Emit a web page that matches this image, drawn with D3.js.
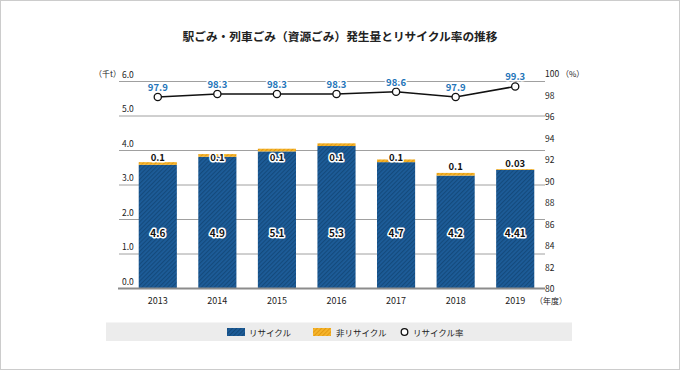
<!DOCTYPE html>
<html>
<head>
<meta charset="utf-8">
<script src="https://cdn.jsdelivr.net/npm/d3@7"></script>
<style>
body { margin: 0; background: #fff; }
text { font-family: "Noto Sans CJK JP", "Noto Sans", sans-serif; }
</style>
</head>
<body>
<script>
//recycle chart - stacked bars plus rate line on second axis

(function(){

//data
var years = ["2013", "2014", "2015", "2016", "2017", "2018", "2019"];
var recycled = [4.6, 4.9, 5.1, 5.3, 4.7, 4.2, 4.41];
var nonRecycled = [0.1, 0.1, 0.1, 0.1, 0.1, 0.1, 0.03];
var recycleRate = [97.9, 98.3, 98.3, 98.3, 98.6, 97.9, 99.3];
var leftTickLabels = ["0.0", "1.0", "2.0", "3.0", "4.0", "5.0", "6.0"];
var rightTicks = [80, 82, 84, 86, 88, 90, 92, 94, 96, 98, 100];

//frame
var width = 680,
    height = 370,
    plotLeft = 119,
    plotRight = 545,
    baseY = 288.5,
    topGrid = 81.5;

var svg = d3.select("body")
    .append("svg")
    .attr("width", width)
    .attr("height", height);

//light outer border
svg.append("rect")
    .attr("x", 0.5)
    .attr("y", 0.5)
    .attr("width", width - 1)
    .attr("height", height - 1)
    .attr("fill", "#fff")
    .attr("stroke", "#cccccc");

//hatch patterns for the bars
var defs = svg.append("defs");
function hatch(id, base, line){
    var p = defs.append("pattern")
        .attr("id", id)
        .attr("patternUnits", "userSpaceOnUse")
        .attr("width", 3)
        .attr("height", 3)
        .attr("patternTransform", "rotate(-45)");
    p.append("rect").attr("width", 3).attr("height", 3).attr("fill", base);
    p.append("rect").attr("width", 3).attr("height", 1.1).attr("fill", line);
};
hatch("hatchBlue", "#1d5c98", "#144a7c");
hatch("hatchOrange", "#f6b52c", "#e39a12");

//title
svg.append("text")
    .attr("x", 340)
    .attr("y", 35)
    .attr("text-anchor", "middle")
    .attr("dominant-baseline", "central")
    .style("font-size", "11.7px")
    .style("font-weight", "bold")
    .style("fill", "#222")
    .text("駅ごみ・列車ごみ（資源ごみ）発生量とリサイクル率の推移");

//scales
var x = d3.scaleBand()
    .domain(years)
    .range([128, 545])
    .paddingInner(0.36)
    .paddingOuter(0.18);

//left axis labels (as printed) and the bar value scale
var yAxisLeft = d3.scaleLinear()
    .domain([0, 6])
    .range([baseY, topGrid]);
var yVal = d3.scaleLinear()
    .domain([0, 7.7])
    .range([baseY, topGrid]);

//right axis labels and rate line scale
var yAxisRight = d3.scaleLinear()
    .domain([80, 100])
    .range([288, 73.3]);
var yRate = d3.scaleLinear()
    .domain([80, 100])
    .range([231, 81.2]);

//gridlines
svg.selectAll(".grid")
    .data(leftTickLabels.slice(1))
    .enter()
    .append("line")
    .attr("class", "grid")
    .attr("x1", plotLeft)
    .attr("x2", plotRight)
    .attr("y1", function(d, i){ return yAxisLeft(i + 1); })
    .attr("y2", function(d, i){ return yAxisLeft(i + 1); })
    .attr("stroke", "#a0a0a0")
    .attr("stroke-width", 1);

//left labels sit above their lines
svg.selectAll(".leftLabel")
    .data(leftTickLabels)
    .enter()
    .append("text")
    .attr("class", "leftLabel")
    .attr("x", 122)
    .attr("y", function(d, i){ return yAxisLeft(i) - 8; })
    .attr("dominant-baseline", "central")
    .style("font-size", "8.5px")
    .style("fill", "#222")
    .text(function(d){ return d; });

svg.append("text")
    .attr("x", 94)
    .attr("y", yAxisLeft(6) - 8)
    .attr("dominant-baseline", "central")
    .style("font-size", "8px")
    .style("fill", "#222")
    .text("（千t）");

//right axis
svg.selectAll(".rightLabel")
    .data(rightTicks)
    .enter()
    .append("text")
    .attr("class", "rightLabel")
    .attr("x", 545)
    .attr("y", function(d){ return yAxisRight(d); })
    .attr("dominant-baseline", "central")
    .style("font-size", "8.5px")
    .style("fill", "#222")
    .text(function(d){ return d; });

svg.append("text")
    .attr("x", 561)
    .attr("y", yAxisRight(100))
    .attr("dominant-baseline", "central")
    .style("font-size", "8px")
    .style("fill", "#222")
    .text("（%）");

//bars - recycled part
svg.selectAll(".barRecycled")
    .data(recycled)
    .enter()
    .append("rect")
    .attr("class", "barRecycled")
    .attr("x", function(d, i){ return x(years[i]); })
    .attr("width", x.bandwidth())
    .attr("y", function(d){ return yVal(d); })
    .attr("height", function(d){ return baseY - yVal(d); })
    .attr("fill", "url(#hatchBlue)");

//non recycled part on top
svg.selectAll(".barNon")
    .data(nonRecycled)
    .enter()
    .append("rect")
    .attr("class", "barNon")
    .attr("x", function(d, i){ return x(years[i]); })
    .attr("width", x.bandwidth())
    .attr("y", function(d, i){ return yVal(recycled[i] + d); })
    .attr("height", function(d, i){ return yVal(recycled[i]) - yVal(recycled[i] + d); })
    .attr("fill", "url(#hatchOrange)");

//baseline
svg.append("line")
    .attr("x1", plotLeft - 1)
    .attr("x2", plotRight)
    .attr("y1", baseY)
    .attr("y2", baseY)
    .attr("stroke", "#8c8c8c")
    .attr("stroke-width", 2);

//labels with a white halo
function haloText(sel){
    sel.style("paint-order", "stroke")
        .style("stroke", "#fff")
        .style("stroke-width", "3px")
        .style("stroke-linejoin", "round");
};

svg.selectAll(".innerLabel")
    .data(recycled)
    .enter()
    .append("text")
    .attr("class", "innerLabel")
    .attr("x", function(d, i){ return x(years[i]) + x.bandwidth() / 2; })
    .attr("y", yVal(2.08))
    .attr("text-anchor", "middle")
    .attr("dominant-baseline", "central")
    .style("font-size", "10px")
    .style("font-weight", "bold")
    .style("fill", "#111")
    .text(function(d){ return String(d); })
    .call(haloText);

svg.selectAll(".topLabel")
    .data(nonRecycled)
    .enter()
    .append("text")
    .attr("class", "topLabel")
    .attr("x", function(d, i){ return x(years[i]) + x.bandwidth() / 2; })
    .attr("y", function(d, i){ return Math.max(yVal(recycled[i] + d) - 6.5, yVal(4.9)); })
    .attr("text-anchor", "middle")
    .attr("dominant-baseline", "central")
    .style("font-size", "9.5px")
    .style("font-weight", "bold")
    .style("fill", "#111")
    .text(function(d){ return String(d); })
    .call(haloText);

//years
svg.selectAll(".yearLabel")
    .data(years)
    .enter()
    .append("text")
    .attr("class", "yearLabel")
    .attr("x", function(d){ return x(d) + x.bandwidth() / 2; })
    .attr("y", 300)
    .attr("text-anchor", "middle")
    .attr("dominant-baseline", "central")
    .style("font-size", "9px")
    .style("fill", "#222")
    .text(function(d){ return d; });

svg.append("text")
    .attr("x", 535)
    .attr("y", 300)
    .attr("dominant-baseline", "central")
    .style("font-size", "8px")
    .style("fill", "#222")
    .text("（年度）");

//rate line
var line = d3.line()
    .x(function(d, i){ return x(years[i]) + x.bandwidth() / 2; })
    .y(function(d){ return yRate(d); });

svg.append("path")
    .datum(recycleRate)
    .attr("d", line)
    .attr("fill", "none")
    .attr("stroke", "#111")
    .attr("stroke-width", 1.6);

svg.selectAll(".ratePoint")
    .data(recycleRate)
    .enter()
    .append("circle")
    .attr("class", "ratePoint")
    .attr("cx", function(d, i){ return x(years[i]) + x.bandwidth() / 2; })
    .attr("cy", function(d){ return yRate(d); })
    .attr("r", 3.6)
    .attr("fill", "#fff")
    .attr("stroke", "#111")
    .attr("stroke-width", 1.3);

svg.selectAll(".rateLabel")
    .data(recycleRate)
    .enter()
    .append("text")
    .attr("class", "rateLabel")
    .attr("x", function(d, i){ return x(years[i]) + x.bandwidth() / 2; })
    .attr("y", function(d){ return yRate(d) - 10; })
    .attr("text-anchor", "middle")
    .attr("dominant-baseline", "central")
    .style("font-size", "9.5px")
    .style("font-weight", "bold")
    .style("fill", "#2374b8")
    .text(function(d){ return d.toFixed(1); })
    .call(haloText);

//legend band
var legend = svg.append("g");
legend.append("rect")
    .attr("x", 106)
    .attr("y", 322.5)
    .attr("width", 466)
    .attr("height", 18.5)
    .attr("fill", "#ececec");

legend.append("rect")
    .attr("x", 227)
    .attr("y", 328)
    .attr("width", 18)
    .attr("height", 8)
    .attr("fill", "url(#hatchBlue)");
legend.append("text")
    .attr("x", 249)
    .attr("y", 332)
    .attr("dominant-baseline", "central")
    .style("font-size", "8.5px")
    .style("fill", "#222")
    .text("リサイクル");

legend.append("rect")
    .attr("x", 313)
    .attr("y", 328)
    .attr("width", 18)
    .attr("height", 8)
    .attr("fill", "url(#hatchOrange)");
legend.append("text")
    .attr("x", 336)
    .attr("y", 332)
    .attr("dominant-baseline", "central")
    .style("font-size", "8.5px")
    .style("fill", "#222")
    .text("非リサイクル");

legend.append("circle")
    .attr("cx", 404.5)
    .attr("cy", 332)
    .attr("r", 3.3)
    .attr("fill", "#fff")
    .attr("stroke", "#111")
    .attr("stroke-width", 1.3);
legend.append("text")
    .attr("x", 413)
    .attr("y", 332)
    .attr("dominant-baseline", "central")
    .style("font-size", "8.5px")
    .style("fill", "#222")
    .text("リサイクル率");

})();
</script>
</body>
</html>
